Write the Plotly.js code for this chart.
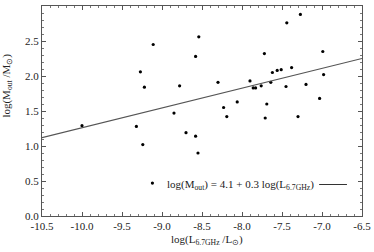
<!DOCTYPE html>
<html>
<head>
<meta charset="utf-8">
<script src="https://cdn.plot.ly/plotly-3.0.1.min.js"></script>
<style>html,body{margin:0;padding:0;background:#fff;}#chart{width:374px;height:252px;}</style>
</head>
<body>
<div id="chart"></div>
<script>
// log(L_6.7GHz / L_sun)
const logL = [-10.0, -9.27, -9.11, -9.22, -8.78, -8.85, -9.32,
  -8.54, -8.58, -8.30, -8.23, -8.19, -8.06, -7.90, -7.86, -7.83, -7.76, -7.72, -7.69, -7.71,
  -7.64, -7.62, -7.56, -7.51, -7.44, -7.45, -7.38, -7.27, -7.30, -7.20, -7.03, -6.99, -6.98,
  -9.24, -9.12, -8.70, -8.58, -8.55];
// log(M_out / M_sun)
const logM = [1.29, 2.06, 2.45, 1.84, 1.86, 1.47, 1.28,
  2.56, 2.28, 1.91, 1.55, 1.42, 1.63, 1.93, 1.83, 1.83, 1.86, 2.32, 1.60, 1.40,
  1.91, 2.05, 2.08, 2.09, 2.76, 1.85, 2.12, 2.88, 1.42, 1.88, 1.68, 2.35, 2.02,
  1.02, 0.47, 1.19, 1.14, 0.90];
// fitted relation as drawn
const fitX = [-10.5, -6.5];
const fitY = [1.12, 2.25];
const xTickVals = [-10.5, -10.0, -9.5, -9.0, -8.5, -8.0, -7.5, -7.0, -6.5];
const xTickText = ["-10.5", "-10.0", "-9.5", "-9.0", "-8.5", "-8.0", "-7.5", "-7.0", "-6.5"];
const yTickVals = [0, 0.5, 1.0, 1.5, 2.0, 2.5, 3.0];
const yTickText = ["0.0", "0.5", "1.0", "1.5", "2.0", "2.5", "3.0"];

const font = {family: "Liberation Serif, Times New Roman, serif", size: 11, color: "#222"};
const axisCommon = {
  showgrid: false, zeroline: false, showline: true, linecolor: "#555", linewidth: 1,
  mirror: "allticks", ticks: "inside", ticklen: 4, tickcolor: "#555", tickwidth: 1,
  tickmode: "array", tickfont: font,
  minor: {ticks: "inside", ticklen: 2, tickcolor: "#777", dtick: 0.1, tickwidth: 1}
};

const traces = [
  {x: logL, y: logM, type: "scatter", mode: "markers",
   marker: {color: "#000", size: 3.2}, hoverinfo: "none", showlegend: false},
  {x: fitX, y: fitY, type: "scatter", mode: "lines",
   line: {color: "#555", width: 1.2}, hoverinfo: "none", showlegend: false}
];

const layout = {
  width: 374, height: 252,
  margin: {l: 42, r: 12, t: 6, b: 36},
  paper_bgcolor: "#fff", plot_bgcolor: "#fff",
  font: font,
  xaxis: Object.assign({}, axisCommon, {range: [-10.5, -6.5], tickvals: xTickVals, ticktext: xTickText}),
  yaxis: Object.assign({}, axisCommon, {range: [0, 3], tickvals: yTickVals, ticktext: yTickText}),
  annotations: [
    {xref: "paper", yref: "paper", x: 0.515, y: -0.114, xanchor: "center", yanchor: "middle",
     showarrow: false, font: font,
     text: "log(L<sub>6.7GHz</sub> /L<sub>⊙</sub>)"},
    {xref: "paper", yref: "paper", x: -0.11, y: 0.62, xanchor: "center", yanchor: "middle",
     textangle: -90, showarrow: false, font: font,
     text: "log(M<sub>out</sub> /M<sub>⊙</sub>)"},
    {xref: "paper", yref: "paper", x: 0.855, y: 0.15, xanchor: "right", yanchor: "middle",
     showarrow: false, font: font,
     text: "log(M<sub>out</sub>) = 4.1 + 0.3 log(L<sub>6.7GHz</sub>)"}
  ],
  shapes: [
    {type: "line", xref: "paper", yref: "paper", x0: 0.866, x1: 0.953, y0: 0.15, y1: 0.15,
     line: {color: "#333", width: 1}}
  ]
};

Plotly.newPlot("chart", traces, layout, {staticPlot: true, displayModeBar: false});
</script>
</body>
</html>
